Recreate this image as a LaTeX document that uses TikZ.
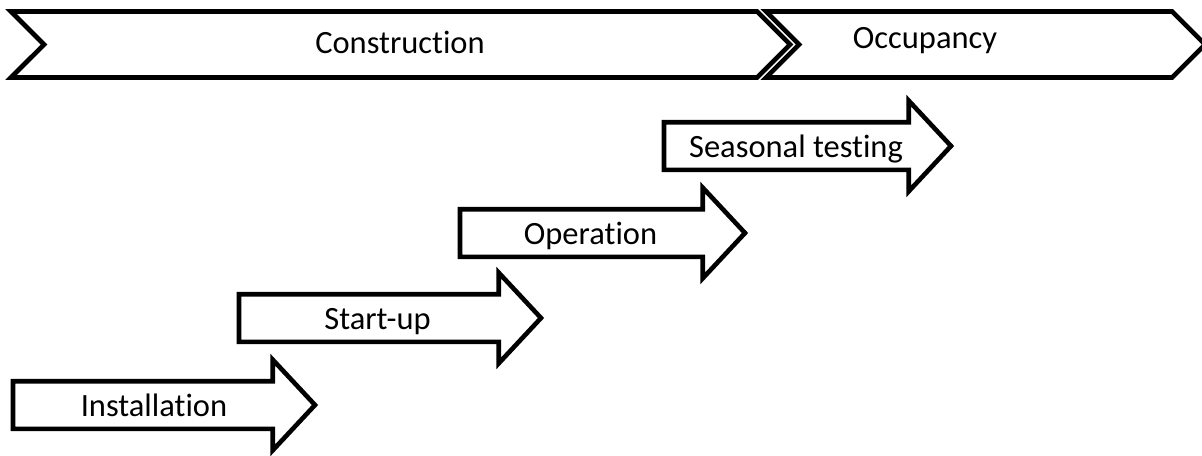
\documentclass[tikz,border=0pt]{standalone}
\usepackage{fontspec}
\setmainfont{Carlito}[Ligatures={NoCommon,NoContextual}]
\usetikzlibrary{shapes.symbols,shapes.arrows,positioning,calc}

\begin{document}
\begin{tikzpicture}[
  x=0.5pt, y=-0.5pt,
  phase/.style={signal, signal from=west, signal to=east, signal pointer angle=90,
    draw=black, fill=white, line width=2.3pt, minimum height=33pt, inner sep=0pt},
  stage/.style={single arrow, draw=black, fill=white, line width=2.3pt,
    single arrow head extend=10.75pt, single arrow tip angle=94,
    inner xsep=0pt, inner ysep=10.75pt, minimum width=0pt, outer sep=0pt, anchor=tail},
  lbl/.style={font=\fontsize{16.25}{19}\selectfont, text=black, anchor=base, inner sep=0pt}
]
\useasboundingbox (0,0) rectangle (1202,455);

% phases along the top
\node[phase, minimum width=389.5pt] (constr) at (400.5,44.5) {};
\node[phase, minimum width=219.5pt] (occup) at (985.5,44.5) {};
\node[lbl] (constr_t) at ($(constr.center)+(-0.5,8.5)$) {Construction};
\node[lbl] (occup_t) at ($(occup.center)+(-60.5,3.5)$) {Occupancy};

% stages, stepping up to the right
\node[stage, minimum height=151pt] (inst) at (13,405) {};
\node[stage, minimum height=151pt] (startup) at (239,318) {};
\node[stage, minimum height=142.5pt] (oper) at (460,233) {};
\node[stage, minimum height=143.5pt] (season) at (664,146) {};

\node[lbl] (inst_t) at ($(inst.tail)+(141,11)$) {Installation};
\node[lbl] (startup_t) at ($(startup.tail)+(138.5,11)$) {Start-up};
\node[lbl] (oper_t) at ($(oper.tail)+(130.5,11)$) {Operation};
\node[lbl] (season_t) at ($(season.tail)+(132,11)$) {Seasonal testing};

\end{tikzpicture}
\end{document}
